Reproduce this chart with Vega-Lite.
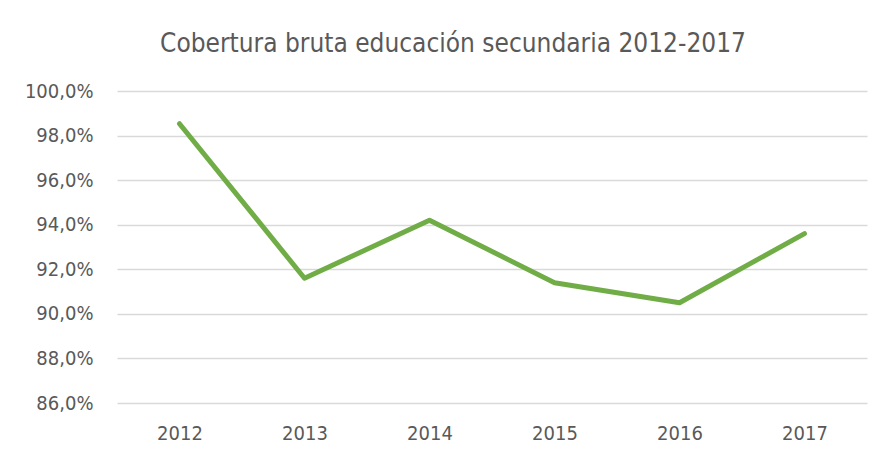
{
  "$schema": "https://vega.github.io/schema/vega-lite/v6.json",
  "width": 750,
  "height": 312,
  "autosize": {"type": "none"},
  "padding": {"left": 117, "top": 91, "right": 17, "bottom": 57},
  "background": "white",
  "config": {"view": {"stroke": null}},
  "title": {
    "text": "Cobertura bruta educación secundaria 2012-2017",
    "font": "DejaVu Sans Condensed",
    "fontSize": 26,
    "fontWeight": "normal",
    "color": "#595959",
    "anchor": "middle",
    "dx": -39,
    "offset": 24
  },
  "data": {
    "values": [
      {"year": "2012", "value": 98.53},
      {"year": "2013", "value": 91.6},
      {"year": "2014", "value": 94.2},
      {"year": "2015", "value": 91.4},
      {"year": "2016", "value": 90.5},
      {"year": "2017", "value": 93.6}
    ]
  },
  "mark": {"type": "line", "color": "#70AD47", "strokeWidth": 5, "strokeCap": "round", "strokeJoin": "round"},
  "encoding": {
    "x": {
      "field": "year",
      "type": "ordinal",
      "scale": {"type": "point", "padding": 0.5},
      "axis": {
        "title": null,
        "labelAngle": 0,
        "domain": false,
        "ticks": false,
        "labelPadding": 20,
        "labelFont": "DejaVu Sans Condensed",
        "labelFontSize": 20,
        "labelColor": "#595959"
      }
    },
    "y": {
      "field": "value",
      "type": "quantitative",
      "scale": {"domain": [86, 100], "nice": false, "zero": false},
      "axis": {
        "title": null,
        "values": [86, 88, 90, 92, 94, 96, 98, 100],
        "labelExpr": "replace(format(datum.value, '.1f'), '.', ',') + '%'",
        "domain": false,
        "ticks": false,
        "labelPadding": 24,
        "labelFont": "DejaVu Sans Condensed",
        "labelFontSize": 20,
        "labelColor": "#595959",
        "gridColor": "#D9D9D9",
        "gridWidth": 1.5
      }
    }
  }
}
